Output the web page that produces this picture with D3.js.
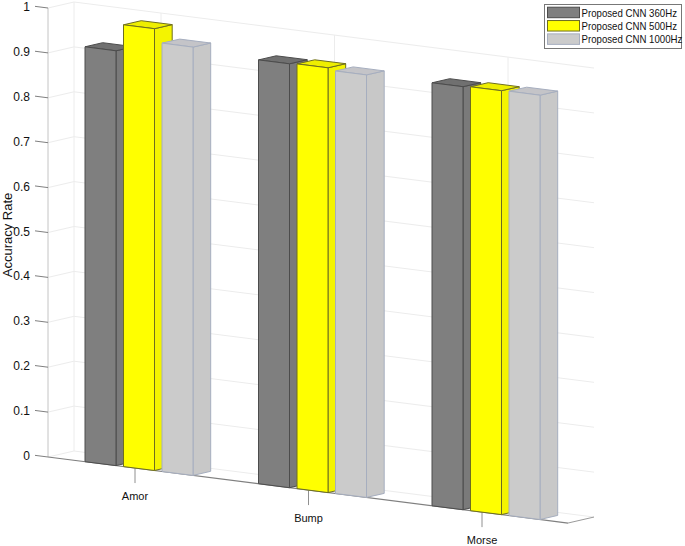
<!DOCTYPE html>
<html>
<head>
<meta charset="utf-8">
<script src="https://cdn.jsdelivr.net/npm/d3@7"></script>
<style>
  html, body { margin: 0; padding: 0; background: #fff; }
  text { font-family: "Liberation Sans", Arial, sans-serif; fill: #111; }
</style>
</head>
<body>
<div id="chart"></div>
<script>
var categories = ["Amor", "Bump", "Morse"];
var seriesNames = ["Proposed CNN 360Hz", "Proposed CNN 500Hz", "Proposed CNN 1000Hz"];
var values360 = [0.924, 0.944, 0.942];
var values500 = [0.984, 0.946, 0.944];
var values1000 = [0.954, 0.941, 0.945];
var yTicks = [0, 0.1, 0.2, 0.3, 0.4, 0.5, 0.6, 0.7, 0.8, 0.9, 1];

var seriesValues = [values360, values500, values1000];
var faceColors = ["#7f7f7f", "#ffff00", "#cbcbcb"];
var sideColors = ["#7a7a7a", "#f4f400", "#c8c8c8"];
var topColors = ["#707070", "#eeee00", "#c4c4c8"];
var edgeColors = ["#4c4c4c", "#6e6e20", "#a6aebf"];

var width = 685, height = 546;

var svg = d3.select("#chart").append("svg")
  .attr("width", width)
  .attr("height", height)
  .style("display", "block");

// oblique projection: the floor runs downhill to the right, depth goes up and right
var floorLeft = 48, floorRight = 568, floorTop = 457;
var slope = 0.127, depthX = 26, depthY = 6;

var zScale = d3.scaleLinear().domain([0, 1]).range([0, 449]);
var xTick = d3.scalePoint().domain(categories).range([135, 482]);
var barStep = 38.5, barWidth = 31, barDepth = 0.68;

function project(x, depth, value) {
  return [
    x + depth * depthX,
    floorTop + (x - floorLeft) * slope - depth * depthY - zScale(value)
  ];
}
function poly(points) {
  return points.map(function(p) { return p[0].toFixed(1) + "," + p[1].toFixed(1); }).join(" ");
}
function line3d(x1, d1, v1, x2, d2, v2, color, w) {
  var a = project(x1, d1, v1), b = project(x2, d2, v2);
  svg.append("line")
    .attr("x1", a[0]).attr("y1", a[1])
    .attr("x2", b[0]).attr("y2", b[1])
    .attr("stroke", color)
    .attr("stroke-width", w);
}

// walls
var gridColor = "#ececec";
yTicks.forEach(function(v) {
  line3d(floorLeft, 0, v, floorLeft, 1, v, gridColor, 1);
  line3d(floorLeft, 1, v, floorRight, 1, v, gridColor, 1);
});
categories.forEach(function(c) {
  line3d(xTick(c), 1, 0, xTick(c), 1, 1, gridColor, 1);
  line3d(xTick(c), 0, 0, xTick(c), 1, 0, gridColor, 1);
});
line3d(floorLeft, 1, 0, floorLeft, 1, 1, gridColor, 1);
line3d(floorLeft, 0, 0, floorLeft, 0, 1, "#c4c4c4", 1);

// y ticks stick out of the front left edge
yTicks.forEach(function(v) {
  line3d(floorLeft - 13, 0, v, floorLeft, 0, v, "#808080", 1);
});

// floor edges
line3d(floorLeft, 0, 0, floorRight, 0, 0, "#808080", 1.2);
line3d(floorRight, 0, 0, floorRight, 1, 0, "#9a9a9a", 1);

// category ticks
categories.forEach(function(c) {
  var p = project(xTick(c), 0, 0);
  svg.append("line")
    .attr("x1", p[0]).attr("y1", p[1])
    .attr("x2", p[0]).attr("y2", p[1] + 15)
    .attr("stroke", "#909090");
  svg.append("text")
    .attr("x", p[0])
    .attr("y", p[1] + 32)
    .attr("text-anchor", "middle")
    .style("font-size", "11px")
    .text(c);
});

// bars, drawn left to right so each one covers the side of the previous one
categories.forEach(function(c, ci) {
  seriesValues.forEach(function(vals, si) {
    var x0 = xTick(c) - 50 + si * barStep;
    var x1 = x0 + barWidth;
    var v = vals[ci];
    var g = svg.append("g").attr("class", "bar")
      .attr("stroke", edgeColors[si])
      .attr("stroke-width", 1)
      .attr("stroke-linejoin", "round");
    g.append("polygon")
      .attr("points", poly([project(x1, 0, 0), project(x1, barDepth, 0), project(x1, barDepth, v), project(x1, 0, v)]))
      .attr("fill", sideColors[si]);
    g.append("polygon")
      .attr("points", poly([project(x0, 0, v), project(x1, 0, v), project(x1, barDepth, v), project(x0, barDepth, v)]))
      .attr("fill", topColors[si]);
    g.append("polygon")
      .attr("points", poly([project(x0, 0, 0), project(x1, 0, 0), project(x1, 0, v), project(x0, 0, v)]))
      .attr("fill", faceColors[si]);
  });
});

// y tick labels
yTicks.forEach(function(v) {
  svg.append("text")
    .attr("x", 30)
    .attr("y", floorTop - 1 - zScale(v) + 4)
    .attr("text-anchor", "end")
    .style("font-size", "12px")
    .text(v);
});

svg.append("text")
  .attr("transform", "translate(12,235) rotate(-90)")
  .attr("text-anchor", "middle")
  .style("font-size", "13px")
  .text("Accuracy Rate");

// legend
var legend = svg.append("g");
legend.append("rect")
  .attr("x", 544.5).attr("y", 4.5)
  .attr("width", 137).attr("height", 44)
  .attr("fill", "#fff")
  .attr("stroke", "#777");
var legendRow = d3.scaleBand().domain(seriesNames).range([6, 46]);
seriesNames.forEach(function(name, i) {
  legend.append("rect")
    .attr("x", 547.5)
    .attr("y", legendRow(name) + 1.2)
    .attr("width", 32)
    .attr("height", 10.5)
    .attr("fill", faceColors[i])
    .attr("stroke", edgeColors[i]);
  // the legend text is narrow in the original, so squeeze it a bit
  legend.append("text")
    .attr("transform", "translate(581.5," + (legendRow(name) + 10.8) + ") scale(0.92,1)")
    .style("font-size", "10.5px")
    .text(name);
});
</script>
</body>
</html>
